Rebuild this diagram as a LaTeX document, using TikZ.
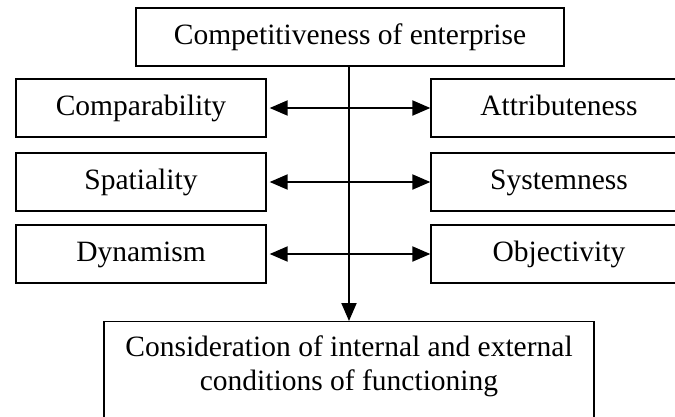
\documentclass[tikz,border=0pt]{standalone}
\usepackage{fontspec}
\setmainfont{Liberation Serif}
\usetikzlibrary{arrows.meta}
\tikzset{
	box/.style={draw, line width=1.3pt, minimum height=58pt, inner sep=0pt, text height=20pt, text depth=5pt},
	link/.style={line width=2pt, {Triangle[length=18pt,width=15pt]}-{Triangle[length=18pt,width=15pt]}, shorten <=3pt},
	down/.style={line width=2pt, -{Triangle[length=18pt,width=15pt]}}
}
\begin{document}
\begin{tikzpicture}[x=1pt, y=-1pt, font=\fontsize{29.5}{34}\selectfont]
				\useasboundingbox (0,0) rectangle (675,416);
				\node [box, minimum width=428pt] (top) at (350,37) {Competitiveness of enterprise};
				\node [draw, line width=1.3pt, anchor=north, minimum width=490pt, inner sep=14pt, align=center, text depth=60pt] (bot) at (349,321) {Consideration of internal and external\\conditions of functioning};
				\foreach \l/\r/\y [count=\i] in {Comparability/Attributeness/108, Spatiality/Systemness/182, Dynamism/Objectivity/254}
				{
				\node [box, minimum width=250pt] (left\i) at (141,\y) {\l};
				\node [box, minimum width=256pt] (right\i) at (559,\y) {\r};
				\draw [link] (left\i) -- (right\i);
				}
				\draw [down] (top.south -| bot.north) -- (bot.north);
			\end{tikzpicture}
\end{document}
